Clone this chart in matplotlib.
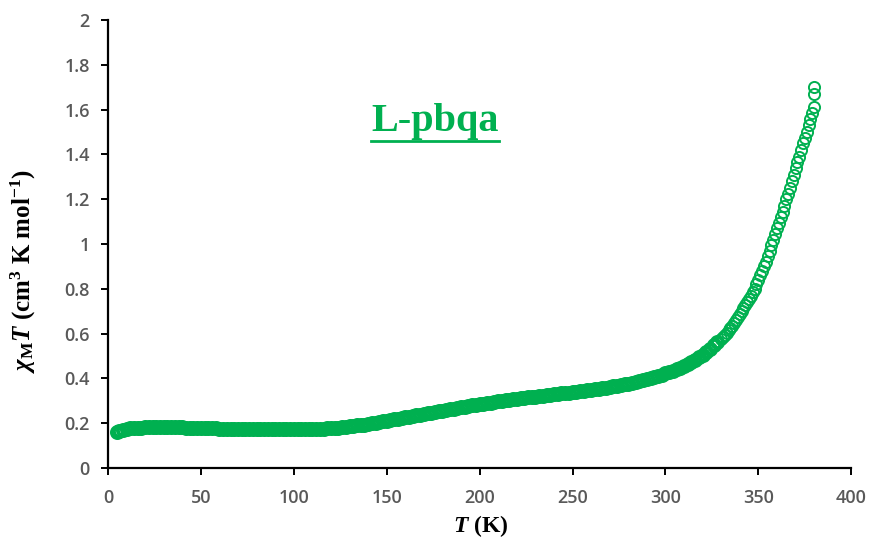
import matplotlib
matplotlib.use('Agg')
import matplotlib.pyplot as plt
from matplotlib.lines import Line2D

# chi_M*T vs T for L-pbqa
temps = [5, 6, 8, 10, 12, 14, 16, 18, 20, 22, 24, 26, 28, 30, 32, 34, 36, 38,
         40, 42, 44, 46, 48, 50, 52, 54, 56, 58, 60, 62, 64, 66, 68, 70, 72,
         74, 76, 78, 80, 82, 84, 86, 88, 90, 92, 94, 96, 98, 100, 102, 104,
         106, 108, 110, 112, 114, 116, 118, 120, 122, 124, 126, 128, 130, 132,
         134, 136, 138, 140, 142, 144, 146, 148, 150, 152, 154, 156, 158, 160,
         162, 164, 166, 168, 170, 172, 174, 176, 178, 180, 182, 184, 186, 188,
         190, 192, 194, 196, 198, 200, 202, 204, 206, 208, 210, 212, 214, 216,
         218, 220, 222, 224, 226, 228, 230, 232, 234, 236, 238, 240, 242, 244,
         246, 248, 250, 252, 254, 256, 258, 260, 262, 264, 266, 268, 270, 272,
         274, 276, 278, 280, 282, 284, 286, 288, 290, 292, 294, 296, 298, 300,
         302, 304, 306, 308, 310, 312, 314, 316, 318, 320, 322, 324, 326, 328,
         330, 331, 332, 333, 334, 335, 336, 337, 338, 339, 340, 341, 342, 343,
         344, 345, 346, 347, 348, 349, 350, 351, 352, 353, 354, 355, 356, 357,
         358, 359, 360, 361, 362, 363, 364, 365, 366, 367, 368, 369, 370, 371,
         372, 373, 374, 375, 376, 377, 378, 379, 380, 380, 380]
chiT = [0.160, 0.165, 0.171, 0.175, 0.177, 0.179, 0.180, 0.180, 0.181, 0.181,
        0.181, 0.181, 0.181, 0.181, 0.181, 0.181, 0.181, 0.181, 0.181, 0.180,
        0.180, 0.180, 0.180, 0.180, 0.180, 0.179, 0.178, 0.177, 0.176, 0.175,
        0.175, 0.174, 0.174, 0.174, 0.174, 0.174, 0.174, 0.174, 0.174, 0.174,
        0.174, 0.174, 0.174, 0.174, 0.174, 0.174, 0.174, 0.174, 0.174, 0.174,
        0.174, 0.174, 0.174, 0.174, 0.175, 0.175, 0.176, 0.177, 0.178, 0.179,
        0.180, 0.182, 0.184, 0.186, 0.188, 0.190, 0.192, 0.194, 0.196, 0.199,
        0.202, 0.205, 0.208, 0.211, 0.214, 0.217, 0.220, 0.223, 0.226, 0.229,
        0.232, 0.235, 0.238, 0.241, 0.244, 0.247, 0.250, 0.253, 0.256, 0.259,
        0.262, 0.265, 0.268, 0.271, 0.274, 0.277, 0.280, 0.282, 0.285, 0.287,
        0.290, 0.292, 0.295, 0.297, 0.300, 0.302, 0.305, 0.307, 0.309, 0.311,
        0.313, 0.315, 0.317, 0.319, 0.321, 0.323, 0.325, 0.327, 0.329, 0.331,
        0.333, 0.335, 0.337, 0.339, 0.341, 0.343, 0.345, 0.347, 0.349, 0.351,
        0.353, 0.356, 0.359, 0.362, 0.365, 0.368, 0.371, 0.374, 0.377, 0.381,
        0.385, 0.389, 0.393, 0.397, 0.402, 0.407, 0.412, 0.417, 0.422, 0.428,
        0.434, 0.441, 0.448, 0.456, 0.464, 0.473, 0.483, 0.494, 0.506, 0.519,
        0.533, 0.548, 0.562,
        0.575, 0.585, 0.595, 0.605, 0.615, 0.625, 0.635, 0.648, 0.660, 0.673,
        0.686, 0.700, 0.713, 0.727, 0.741, 0.755, 0.770, 0.785, 0.800, 0.820,
        0.840, 0.860, 0.880, 0.900, 0.920, 0.945, 0.970, 0.995, 1.020, 1.045,
        1.070, 1.095, 1.120, 1.145, 1.170, 1.200, 1.225, 1.250, 1.280, 1.310,
        1.340, 1.365, 1.390, 1.420, 1.450, 1.475, 1.500, 1.530, 1.560, 1.585,
        1.610, 1.670, 1.700]

green = '#00B050'
tick_gray = '#595959'

plt.rcParams['mathtext.fontset'] = 'custom'
plt.rcParams['mathtext.rm'] = 'Liberation Serif:bold'
plt.rcParams['mathtext.it'] = 'Liberation Serif:italic:bold'
plt.rcParams['mathtext.bf'] = 'Liberation Serif:bold'

fig = plt.figure(figsize=(8.73, 5.42), dpi=100)
ax = fig.add_axes([0.1237, 0.1365, 0.8514, 0.8265])

# dense part of the sweep overlaps into a solid band, the fast rise shows rings
n_dense = temps.index(330)
ax.plot(temps[:n_dense], chiT[:n_dense], linestyle='none', marker='o',
        markersize=8, markerfacecolor='none', markeredgecolor=green,
        markeredgewidth=2.8)
ax.plot(temps[n_dense:], chiT[n_dense:], linestyle='none', marker='o',
        markersize=8, markerfacecolor='none', markeredgecolor=green,
        markeredgewidth=1.4)

ax.set_xlim(0, 400)
ax.set_ylim(0, 2)
ax.set_xticks(range(0, 401, 50))
ax.set_yticks([0, 0.2, 0.4, 0.6, 0.8, 1, 1.2, 1.4, 1.6, 1.8, 2])
ax.set_yticklabels(['0', '0.2', '0.4', '0.6', '0.8', '1', '1.2', '1.4',
                    '1.6', '1.8', '2'])

for side in ['top', 'right']:
    ax.spines[side].set_visible(False)
for side in ['left', 'bottom']:
    ax.spines[side].set_linewidth(1.6)
ax.tick_params(direction='out', length=5, width=1.4, colors='black',
               labelcolor=tick_gray, labelsize=13)
ax.tick_params(axis='x', pad=10)
ax.tick_params(axis='y', pad=8)
for lab in ax.get_xticklabels() + ax.get_yticklabels():
    lab.set_fontfamily('Open Sans')
    lab.set_fontweight('semibold')

ax.set_xlabel(r'$T$ (K)', fontsize=17, fontfamily='Liberation Serif',
              fontweight='bold')
ax.set_ylabel(r'$\chi_{\mathrm{M}}T$ (cm$^{3}$ K mol$^{-1}$)', fontsize=18,
              fontfamily='Liberation Serif', fontweight='bold')
ax.xaxis.set_label_coords(0.502, -0.1)
ax.yaxis.set_label_coords(-0.094, 0.44)

title = ax.text(176, 1.545, 'L-pbqa', ha='center', va='center',
                fontsize=29, fontfamily='Liberation Serif', fontweight='bold',
                color=green)

# underline the label
fig.canvas.draw()
bb = title.get_window_extent()
W, H = fig.bbox.width, fig.bbox.height
uy = (bb.y0 - 1) / H
fig.add_artist(Line2D([bb.x0 / W, bb.x1 / W], [uy, uy], color=green,
                      linewidth=2))

fig.savefig('out.png', dpi=100)
